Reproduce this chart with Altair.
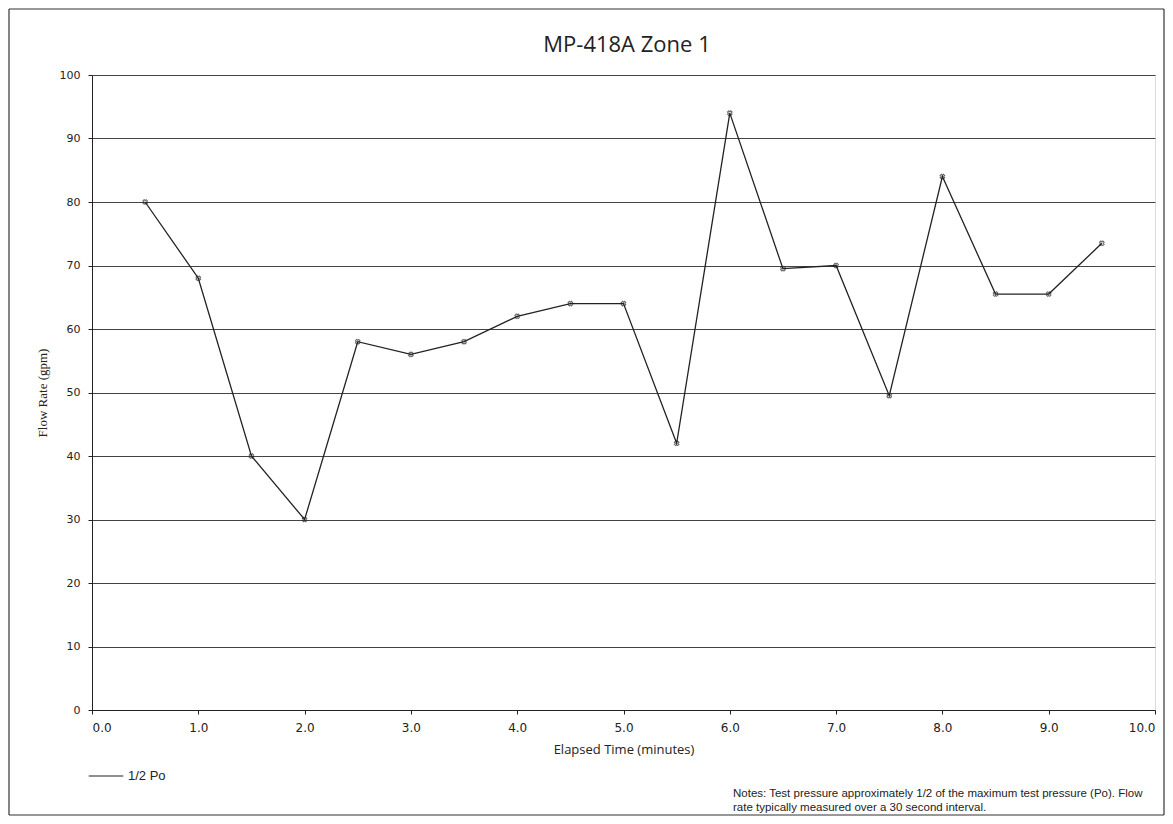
import altair as alt
import pandas as pd

times = [0.5, 1.0, 1.5, 2.0, 2.5, 3.0, 3.5, 4.0, 4.5, 5.0, 5.5, 6.0, 6.5, 7.0, 7.5, 8.0, 8.5, 9.0, 9.5]
flow = [80, 68, 40, 30, 58, 56, 58, 62, 64, 64, 42, 94, 69.5, 70, 49.5, 84, 65.5, 65.5, 73.5]
series = ["1/2 Po"] * len(times)
x_ticks = [0, 1, 2, 3, 4, 5, 6, 7, 8, 9, 10]
y_ticks = [0, 10, 20, 30, 40, 50, 60, 70, 80, 90, 100]
chart_title = "MP-418A Zone 1"
note_line1 = "Notes:  Test pressure approximately 1/2 of the maximum test pressure (Po). Flow"
note_line2 = "rate typically measured over a 30 second interval."

df = pd.DataFrame({"t": times, "q": flow, "s": series})
one = pd.DataFrame({"a": [0]})

W, H = 1063, 635

xs = alt.X("t:Q", scale=alt.Scale(domain=[0, 10], nice=False),
           axis=alt.Axis(values=x_ticks, format=".1f", title="Elapsed Time (minutes)",
                         grid=False, labelFontSize=12, titleFontSize=13, labelPadding=8,
                         titlePadding=10, tickSize=4, labelFont="DejaVu Sans",
                         titleFont="Open Sans", titleFontWeight="normal",
                         domainColor="#222", tickColor="#222", labelColor="#222",
                         titleColor="#222"))
ys = alt.Y("q:Q", scale=alt.Scale(domain=[0, 100], nice=False),
           axis=alt.Axis(values=y_ticks, title="Flow Rate (gpm)", grid=True,
                         gridColor="#444", gridWidth=1, labelFontSize=11, titleFontSize=13,
                         labelPadding=8, titlePadding=10, tickSize=4,
                         labelFont="DejaVu Sans", titleFont="Liberation Serif",
                         titleFontWeight="normal", domainColor="#222", tickColor="#222",
                         labelColor="#222", titleColor="#222"))

line = alt.Chart(df).mark_line(strokeWidth=1.3).encode(
    x=xs, y=ys,
    color=alt.Color("s:N", scale=alt.Scale(range=["#222"]),
                    legend=alt.Legend(title=None, orient="none", legendX=-4, legendY=683,
                                      symbolType="stroke", symbolSize=1200,
                                      symbolStrokeWidth=1.2, labelFontSize=13,
                                      labelFont="Liberation Sans", labelColor="#222")),
)
pts = alt.Chart(df).mark_point(shape="cross", angle=45, size=22, strokeWidth=1,
                               color="#222").encode(x="t:Q", y="q:Q")

title_txt = alt.Chart(one).mark_text(align="center", baseline="middle", fontSize=22,
                                     font="Open Sans", color="#222").encode(
    x=alt.value(535), y=alt.value(-30), text=alt.value(chart_title))

n1 = alt.Chart(one).mark_text(align="left", baseline="middle", fontSize=11.5,
                              font="Liberation Sans", color="#222").encode(
    x=alt.value(641), y=alt.value(719), text=alt.value(note_line1))
n2 = alt.Chart(one).mark_text(align="left", baseline="middle", fontSize=11.5,
                              font="Liberation Sans", color="#222").encode(
    x=alt.value(641), y=alt.value(733), text=alt.value(note_line2))

L, R, T, B = -83, 1072, -66, 740
frame_rules = [
    alt.Chart(one).mark_rule(color="#333", strokeWidth=1.2).encode(
        x=alt.value(L), x2=alt.value(R), y=alt.value(T), y2=alt.value(T)),
    alt.Chart(one).mark_rule(color="#333", strokeWidth=1.2).encode(
        x=alt.value(L), x2=alt.value(R), y=alt.value(B), y2=alt.value(B)),
    alt.Chart(one).mark_rule(color="#333", strokeWidth=1.2).encode(
        x=alt.value(L), x2=alt.value(L), y=alt.value(T), y2=alt.value(B)),
    alt.Chart(one).mark_rule(color="#333", strokeWidth=1.2).encode(
        x=alt.value(R), x2=alt.value(R), y=alt.value(T), y2=alt.value(B)),
]

chart = alt.layer(*frame_rules, line, pts, title_txt, n1, n2).properties(
    width=W, height=H,
    autosize=alt.AutoSizeParams(type="none"),
    padding={"left": 84, "top": 67, "right": 10, "bottom": 106},
).configure_view(stroke=None).configure(background="white")

chart.save("out.html", embed_options={"renderer": "svg", "actions": False})
